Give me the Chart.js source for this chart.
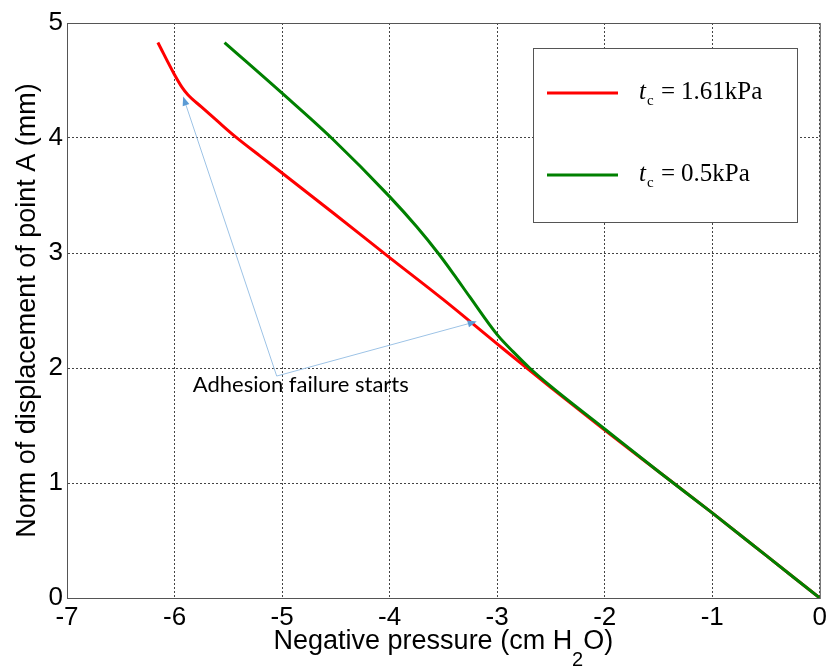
<!DOCTYPE html>
<html>
<head>
<meta charset="utf-8">
<script src="https://cdn.jsdelivr.net/npm/chart.js@4"></script>
<style>
html, body { margin: 0; padding: 0; background: #fff; }
</style>
</head>
<body>
<canvas id="chartDesplazamiento" width="831" height="671"></canvas>
<script>
const xTicks = [-7, -6, -5, -4, -3, -2, -1, 0];
const yTicks = [0, 1, 2, 3, 4, 5];

// t_c = 1.61 kPa
const presionRoja = [-6.155, -6.0, -5.93, -5.876, -5.75, -5.6, -5.426, -5.2, -5.0, -4.527, -4.0, -3.5, -3.0, -2.5, -2.0, -1.5, -1.0, -0.5, 0];
const despRoja    = [4.83, 4.55, 4.44, 4.376, 4.27, 4.146, 4.005, 3.84, 3.696, 3.35, 2.96, 2.594, 2.21, 1.83, 1.46, 1.1, 0.74, 0.37, 0];

// t_c = 0.5 kPa
const presionVerde = [-5.535, -5.0, -4.54, -4.0, -3.75, -3.55, -3.4, -3.256, -3.0, -2.85, -2.698, -2.5, -2.0, -1.5, -1.0, -0.5, 0];
const despVerde    = [4.83, 4.39, 4.0, 3.49, 3.23, 3.0, 2.81, 2.62, 2.29, 2.14, 2.0, 1.84, 1.47, 1.1, 0.74, 0.37, 0];

const etiquetas = ['1.61kPa', '0.5kPa'];
const colores = ['#ff0000', '#008000'];

// anotacion
const notaTexto = 'Adhesion failure starts';
const notaPos = [-5.83, 1.855];
const flechaOrigen = [-5.05, 1.93];
const flechaPuntas = [[-5.92, 4.36], [-3.19, 2.405]];

function puntos(xs, ys) {
    return xs.map((x, i) => ({x: x, y: ys[i]}));
}

function flecha(ctx, x0, y0, x1, y1) {
    const ang = Math.atan2(y1 - y0, x1 - x0);
    const largo = 9, ancho = 3.5;
    const bx = x1 - largo * Math.cos(ang), by = y1 - largo * Math.sin(ang);
    ctx.strokeStyle = '#9dc3e6';
    ctx.lineWidth = 1;
    ctx.beginPath();
    ctx.moveTo(x0, y0);
    ctx.lineTo(bx, by);
    ctx.stroke();
    ctx.fillStyle = '#5b9bd5';
    ctx.beginPath();
    ctx.moveTo(x1, y1);
    ctx.lineTo(bx + ancho * Math.sin(ang), by - ancho * Math.cos(ang));
    ctx.lineTo(bx - ancho * Math.sin(ang), by + ancho * Math.cos(ang));
    ctx.closePath();
    ctx.fill();
}

const marco = {
    id: 'marco',
    beforeDatasetsDraw(chart) {
        const {ctx, chartArea: a} = chart;
        ctx.save();
        ctx.strokeStyle = '#555';
        ctx.lineWidth = 1;
        ctx.strokeRect(a.left + 0.5, a.top + 0.5, a.right - a.left, a.bottom - a.top);
        ctx.restore();
    },
    afterDraw(chart) {
        const {ctx, chartArea: a, scales: {x, y}} = chart;
        ctx.save();

        // leyenda
        const lx = a.left + 466, ly = a.top + 25;
        ctx.fillStyle = '#fff';
        ctx.fillRect(lx, ly, 264, 174);
        ctx.strokeStyle = '#555';
        ctx.lineWidth = 1;
        ctx.strokeRect(lx + 0.5, ly + 0.5, 264, 174);
        etiquetas.forEach((txt, i) => {
            const yy = ly + 45 + i * 82;
            ctx.strokeStyle = colores[i];
            ctx.lineWidth = 3;
            ctx.beginPath();
            ctx.moveTo(lx + 14, yy);
            ctx.lineTo(lx + 85, yy);
            ctx.stroke();
            ctx.fillStyle = '#000';
            ctx.textBaseline = 'alphabetic';
            ctx.textAlign = 'left';
            ctx.font = 'italic 25px "Liberation Serif"';
            ctx.fillText('t', lx + 106, yy + 6);
            ctx.font = '15px "Liberation Serif"';
            ctx.fillText('c', lx + 114, yy + 12);
            ctx.font = '25px "Liberation Serif"';
            ctx.fillText('=', lx + 128, yy + 6);
            ctx.fillText(txt, lx + 148, yy + 6);
        });

        // titulo eje x con subindice
        ctx.fillStyle = '#000';
        ctx.textAlign = 'left';
        ctx.textBaseline = 'alphabetic';
        const p1 = 'Negative pressure (cm H', p2 = '2', p3 = 'O)';
        ctx.font = '20px "Liberation Sans"';
        const w2 = ctx.measureText(p2).width;
        ctx.font = '27px "Liberation Sans"';
        const w1 = ctx.measureText(p1).width, w3 = ctx.measureText(p3).width;
        const tx = (a.left + a.right) / 2 - (w1 + w2 + w3) / 2;
        ctx.fillText(p1, tx, 649);
        ctx.fillText(p3, tx + w1 + w2, 649);
        ctx.font = '20px "Liberation Sans"';
        ctx.fillText(p2, tx + w1, 666);

        // anotacion
        const ox = x.getPixelForValue(flechaOrigen[0]), oy = y.getPixelForValue(flechaOrigen[1]);
        flechaPuntas.forEach(p => flecha(ctx, ox, oy, x.getPixelForValue(p[0]), y.getPixelForValue(p[1])));
        ctx.fillStyle = '#000';
        ctx.font = '22px Lato';
        ctx.textBaseline = 'middle';
        ctx.fillText(notaTexto, x.getPixelForValue(notaPos[0]), y.getPixelForValue(notaPos[1]));

        ctx.restore();
    }
};

iniciarGrafico();

function iniciarGrafico() {
    const ctx = document.getElementById('chartDesplazamiento');
    const fuenteTicks = {family: 'Liberation Sans', size: 26};

    new Chart(ctx, {
        type: 'line',
        data: {
            datasets: [{
                label: etiquetas[0],
                data: puntos(presionRoja, despRoja),
                borderColor: colores[0],
                borderWidth: 3,
                pointRadius: 0,
                cubicInterpolationMode: 'monotone',
                order: 1
            }, {
                label: etiquetas[1],
                data: puntos(presionVerde, despVerde),
                borderColor: colores[1],
                borderWidth: 3,
                pointRadius: 0,
                cubicInterpolationMode: 'monotone',
                order: 0
            }]
        },
        options: {
            responsive: false,
            animation: false,
            layout: {padding: {top: 23, right: 11, left: 0, bottom: 0}},
            plugins: {legend: {display: false}, tooltip: {enabled: false}},
            scales: {
                x: {
                    type: 'linear',
                    min: -7,
                    max: 0,
                    afterBuildTicks: s => { s.ticks = xTicks.map(v => ({value: v})); },
                    afterFit: s => { s.height = 73; },
                    ticks: {font: fuenteTicks, color: '#000', padding: 4, maxRotation: 0, callback: v => String(v)},
                    grid: {color: '#444', drawTicks: false},
                    border: {color: '#555', dash: [2, 2]}
                },
                y: {
                    type: 'linear',
                    min: 0,
                    max: 5,
                    afterBuildTicks: s => { s.ticks = yTicks.map(v => ({value: v})); },
                    afterFit: s => { s.width = 67; },
                    ticks: {font: fuenteTicks, color: '#000', padding: 4, callback: v => String(v)},
                    grid: {color: '#444', drawTicks: false},
                    border: {color: '#555', dash: [2, 2]},
                    title: {
                        display: true,
                        text: 'Norm of displacement of point A (mm)',
                        color: '#000',
                        font: {family: 'Liberation Sans', size: 27},
                        padding: {top: 11, bottom: 0}
                    }
                }
            }
        },
        plugins: [marco]
    });
}
</script>
</body>
</html>
